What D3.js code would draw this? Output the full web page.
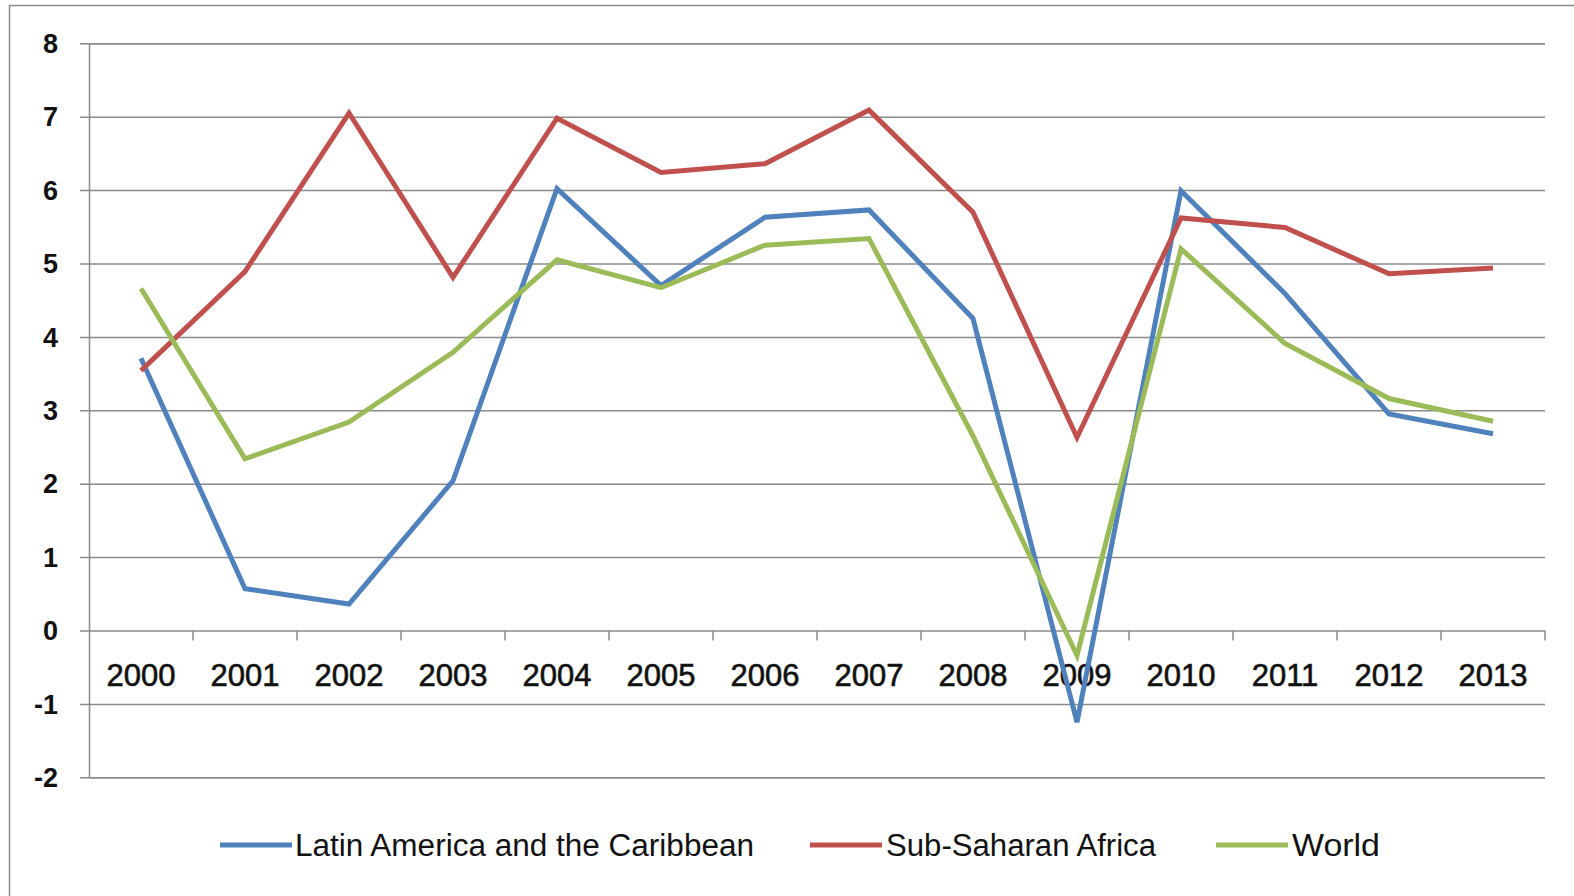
<!DOCTYPE html>
<html>
<head>
<meta charset="utf-8">
<script src="https://cdn.jsdelivr.net/npm/d3@7"></script>
<style>
  html, body { margin: 0; padding: 0; background: #fff; }
  svg { display: block; font-family: "Liberation Sans", Arial, sans-serif; }
</style>
</head>
<body>
<svg id="chart" width="1574" height="896"></svg>
<script>
// GDP growth (annual %), 2000–2013
const years = ["2000","2001","2002","2003","2004","2005","2006","2007","2008","2009","2010","2011","2012","2013"];
const latinAmerica = [3.71, 0.57, 0.36, 2.04, 6.02, 4.70, 5.63, 5.73, 4.25, -1.25, 5.99, 4.59, 2.95, 2.68];
const subSaharanAfrica = [3.54, 4.89, 7.05, 4.81, 6.98, 6.24, 6.36, 7.09, 5.70, 2.63, 5.62, 5.49, 4.86, 4.94];
const world = [4.66, 2.34, 2.84, 3.79, 5.05, 4.67, 5.25, 5.34, 2.65, -0.34, 5.20, 3.91, 3.16, 2.85];
const yTicks = [8, 7, 6, 5, 4, 3, 2, 1, 0, -1, -2];

const seriesNames = ["Latin America and the Caribbean", "Sub-Saharan Africa", "World"];
const seriesColors = ["#4F81BD", "#C0504D", "#9BBB59"];
const series = [latinAmerica, subSaharanAfrica, world];

const svg = d3.select("#chart");
const plotLeft = 89, plotRight = 1545, plotTop = 43.3, plotBottom = 777.3;
const gridColor = "#8a8a8a";

// outer chart frame
svg.append("rect")
  .attr("x", 9.5).attr("y", 5.5)
  .attr("width", 1600).attr("height", 920)
  .attr("fill", "#fff").attr("stroke", "#8c8c8c").attr("stroke-width", 1.5);

const x = d3.scaleBand().domain(years).range([plotLeft, plotRight]).padding(0);
const y = d3.scaleLinear().domain([-2, 8]).range([plotBottom, plotTop]);
const cx = d => x(d) + x.bandwidth() / 2;

// horizontal gridlines + value axis
const yAxis = d3.axisLeft(y)
  .tickValues(yTicks)
  .tickSize(-(plotRight - plotLeft))
  .tickPadding(0)
  .tickFormat("");
const gy = svg.append("g").attr("transform", `translate(${plotLeft},0)`).call(yAxis);
gy.select(".domain").attr("stroke", gridColor).attr("stroke-width", 1.5);
gy.selectAll(".tick line").attr("stroke", gridColor).attr("stroke-width", 1.5)
  .attr("x1", -9);

// value labels
svg.append("g").selectAll("text")
  .data(yTicks).join("text")
  .attr("x", 58).attr("y", d => y(d)).attr("dy", "0.36em")
  .attr("text-anchor", "end")
  .attr("font-size", 27).attr("font-weight", "bold").attr("fill", "#111")
  .text(d => d);

// category axis along zero
const y0 = y(0);
const boundaries = years.map(d => x(d)).concat([plotRight]);
svg.append("g").selectAll("line")
  .data(boundaries.slice(1)).join("line")
  .attr("x1", d => d).attr("x2", d => d)
  .attr("y1", y0).attr("y2", y0 + 10)
  .attr("stroke", gridColor).attr("stroke-width", 1.5);

svg.append("g").selectAll("text")
  .data(years).join("text")
  .attr("x", d => cx(d)).attr("y", 686)
  .attr("text-anchor", "middle")
  .attr("font-size", 31).attr("fill", "#111")
  .attr("stroke", "#111").attr("stroke-width", 0.6)
  .text(d => d);

// series lines
const line = d3.line()
  .x((d, i) => cx(years[i]))
  .y(d => y(d));

svg.append("g").selectAll("path")
  .data(series).join("path")
  .attr("d", d => line(d))
  .attr("fill", "none")
  .attr("stroke", (d, i) => seriesColors[i])
  .attr("stroke-width", 5)
  .attr("stroke-linejoin", "miter");

// legend
const legendItems = [
  { x: 220, tx: 295, w: 459 },
  { x: 810, tx: 886, w: 270 },
  { x: 1216, tx: 1292, w: 88 }
];
const lg = svg.append("g");
legendItems.forEach((it, i) => {
  lg.append("line")
    .attr("x1", it.x).attr("x2", it.x + 72)
    .attr("y1", 845).attr("y2", 845)
    .attr("stroke", seriesColors[i]).attr("stroke-width", 5);
  lg.append("text")
    .attr("x", it.tx).attr("y", 856)
    .attr("font-size", 31).attr("fill", "#111")
    .attr("textLength", it.w).attr("lengthAdjust", "spacingAndGlyphs")
    .text(seriesNames[i]);
});
</script>
</body>
</html>
